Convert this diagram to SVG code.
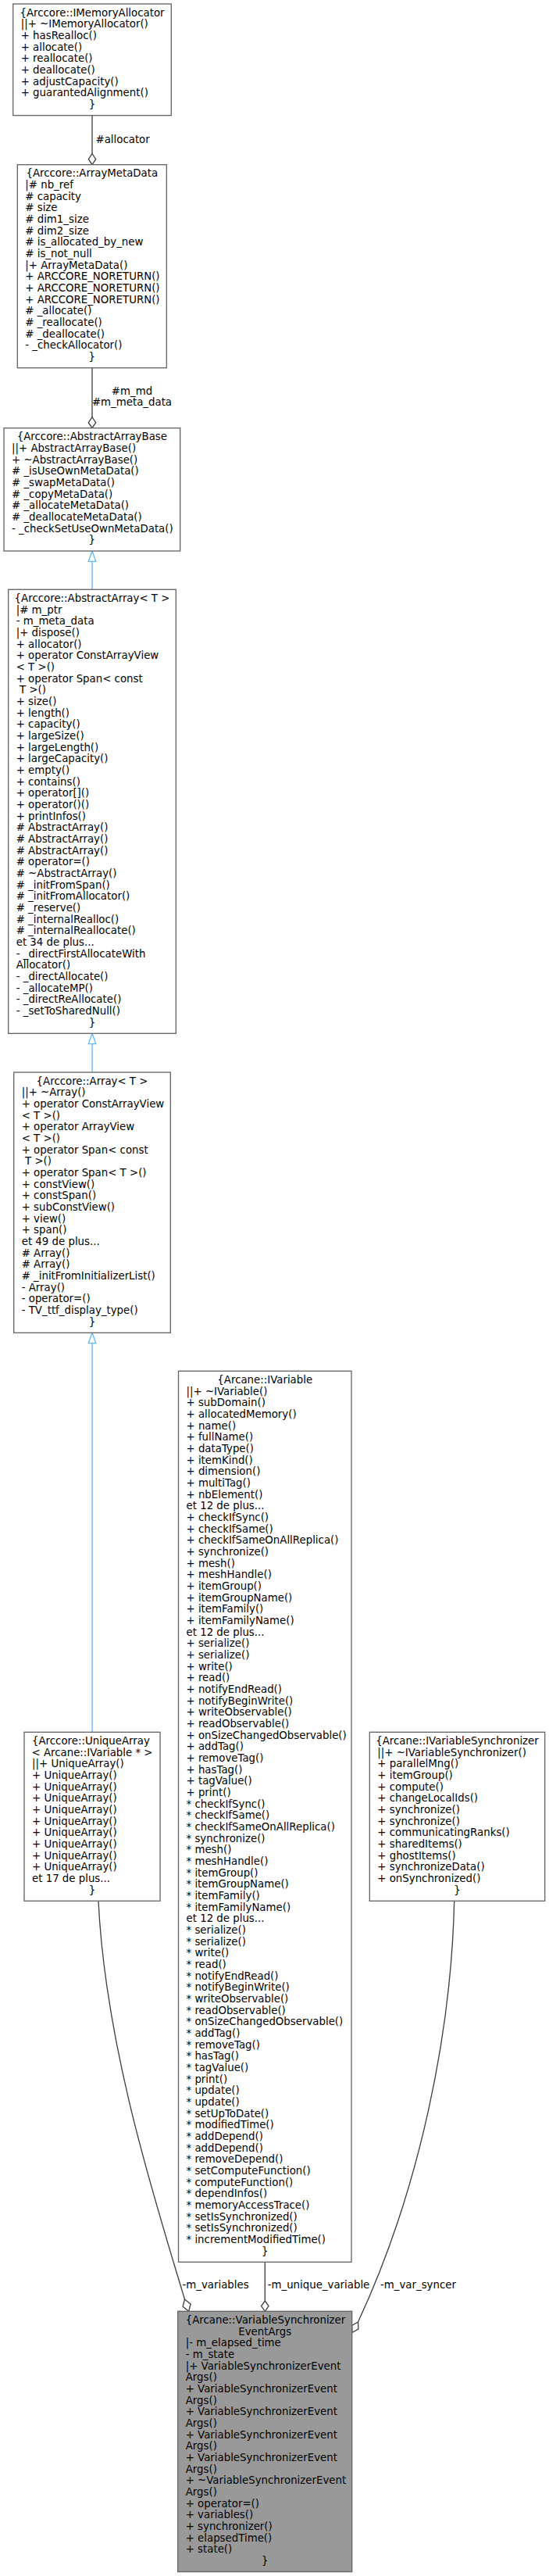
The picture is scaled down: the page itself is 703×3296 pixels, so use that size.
<svg xmlns="http://www.w3.org/2000/svg" width="703" height="3296" viewBox="0 0 703 3296">
<style>
text { font-family: "DejaVu Sans", sans-serif; font-size: 13.333px; fill: #000; }
.c { text-anchor: middle; }
.n { fill: #fff; stroke: #666; stroke-width: 1.333; }
.h { fill: #999; stroke: #666; stroke-width: 1.333; }
.e { fill: none; stroke: #404040; stroke-width: 1.333; }
.d { fill: #fff; stroke: #404040; stroke-width: 1.333; }
.i { fill: none; stroke: #63B8FF; stroke-width: 1.333; }
.t { fill: #fff; stroke: #63B8FF; stroke-width: 1.333; }
</style>
<rect x="0" y="0" width="703" height="3296" fill="#fff"/>

<g id="connectors">
  <!-- IMemoryAllocator -> ArrayMetaData (#allocator) -->
  <path class="e" d="M118,147.7 L118,196.7"/>
  <polygon class="d" points="118,210.7 122.7,203.7 118,196.7 113.3,203.7"/>
  <text x="122.5" y="183">#allocator</text>
  <!-- ArrayMetaData -> AbstractArrayBase -->
  <path class="e" d="M118,470.7 L118,533.7"/>
  <polygon class="d" points="118,547.7 122.7,540.7 118,533.7 113.3,540.7"/>
  <text class="c" x="169" y="504.5">#m_md</text>
  <text class="c" x="169" y="519.2">#m_meta_data</text>
  <!-- inheritance AbstractArrayBase <- AbstractArray -->
  <path class="i" d="M118,718.3 L118,754.3"/>
  <polygon class="t" points="118,705 122.7,718.3 113.3,718.3"/>
  <!-- AbstractArray <- Array -->
  <path class="i" d="M118,1335.6 L118,1372"/>
  <polygon class="t" points="118,1322.3 122.7,1335.6 113.3,1335.6"/>
  <!-- Array <- UniqueArray -->
  <path class="i" d="M118,1718.6 L118,2216.3"/>
  <polygon class="t" points="118,1705.3 122.7,1718.6 113.3,1718.6"/>
  <!-- UniqueArray -> EventArgs (-m_variables) -->
  <path class="e" d="M126,2432.3 C135,2620 200,2820 236.5,2942"/>
  <polygon class="d" points="236.5,2942 244.1,2947.9 241.7,2957.3 234.1,2951.3"/>
  <text x="233.5" y="2928.3">-m_variables</text>
  <!-- IVariable -> EventArgs (-m_unique_variable) -->
  <path class="e" d="M339.3,2894.3 L339.3,2944"/>
  <polygon class="d" points="339.3,2957.3 344,2950.6 339.3,2944 334.6,2950.6"/>
  <text x="342.7" y="2928.3">-m_unique_variable</text>
  <!-- IVariableSynchronizer -> EventArgs (-m_var_syncer) -->
  <path class="e" d="M581.7,2432.3 C578,2600 538,2800 458.5,2971"/>
  <polygon class="d" points="458.5,2971 458.9,2980 451,2984.5 450.6,2975.5"/>
  <text x="487" y="2928.3">-m_var_syncer</text>
</g>

<g id="IMemoryAllocator">
  <rect class="n" x="16.7" y="5" width="202.6" height="142.7"/>
  <text class="c" x="118" y="20.7">{Arccore::IMemoryAllocator</text>
  <text x="26.7" y="35.4"><tspan>||+ ~IMemoryAllocator()</tspan><tspan x="26.7" dy="14.667">+ hasRealloc()</tspan><tspan x="26.7" dy="14.667">+ allocate()</tspan><tspan x="26.7" dy="14.667">+ reallocate()</tspan><tspan x="26.7" dy="14.667">+ deallocate()</tspan><tspan x="26.7" dy="14.667">+ adjustCapacity()</tspan><tspan x="26.7" dy="14.667">+ guarantedAlignment()</tspan></text>
  <text class="c" x="118" y="138">}</text>
</g>

<g id="ArrayMetaData">
  <rect class="n" x="22.3" y="210.7" width="191" height="260"/>
  <text class="c" x="117.8" y="226.4">{Arccore::ArrayMetaData</text>
  <text x="32.3" y="241.1"><tspan>|# nb_ref</tspan><tspan x="32.3" dy="14.667"># capacity</tspan><tspan x="32.3" dy="14.667"># size</tspan><tspan x="32.3" dy="14.667"># dim1_size</tspan><tspan x="32.3" dy="14.667"># dim2_size</tspan><tspan x="32.3" dy="14.667"># is_allocated_by_new</tspan><tspan x="32.3" dy="14.667"># is_not_null</tspan><tspan x="32.3" dy="14.667">|+ ArrayMetaData()</tspan><tspan x="32.3" dy="14.667">+ ARCCORE_NORETURN()</tspan><tspan x="32.3" dy="14.667">+ ARCCORE_NORETURN()</tspan><tspan x="32.3" dy="14.667">+ ARCCORE_NORETURN()</tspan><tspan x="32.3" dy="14.667"># _allocate()</tspan><tspan x="32.3" dy="14.667"># _reallocate()</tspan><tspan x="32.3" dy="14.667"># _deallocate()</tspan><tspan x="32.3" dy="14.667">- _checkAllocator()</tspan></text>
  <text class="c" x="117.8" y="461.1">}</text>
</g>

<g id="AbstractArrayBase">
  <rect class="n" x="5" y="547.7" width="225.7" height="157.3"/>
  <text class="c" x="117.85" y="563.4">{Arccore::AbstractArrayBase</text>
  <text x="15" y="578.1"><tspan>||+ AbstractArrayBase()</tspan><tspan x="15" dy="14.667">+ ~AbstractArrayBase()</tspan><tspan x="15" dy="14.667"># _isUseOwnMetaData()</tspan><tspan x="15" dy="14.667"># _swapMetaData()</tspan><tspan x="15" dy="14.667"># _copyMetaData()</tspan><tspan x="15" dy="14.667"># _allocateMetaData()</tspan><tspan x="15" dy="14.667"># _deallocateMetaData()</tspan><tspan x="15" dy="14.667">- _checkSetUseOwnMetaData()</tspan></text>
  <text class="c" x="117.85" y="695.4">}</text>
</g>

<g id="AbstractArray">
  <rect class="n" x="10.7" y="754.3" width="214.6" height="568"/>
  <text class="c" x="118" y="770">{Arccore::AbstractArray&lt; T &gt;</text>
  <text x="20.7" y="784.7"><tspan>|# m_ptr</tspan><tspan x="20.7" dy="14.667">- m_meta_data</tspan><tspan x="20.7" dy="14.667">|+ dispose()</tspan><tspan x="20.7" dy="14.667">+ allocator()</tspan><tspan x="20.7" dy="14.667">+ operator ConstArrayView</tspan><tspan x="20.7" dy="14.667">&lt; T &gt;()</tspan><tspan x="20.7" dy="14.667">+ operator Span&lt; const</tspan><tspan x="25" dy="14.667">T &gt;()</tspan><tspan x="20.7" dy="14.667">+ size()</tspan><tspan x="20.7" dy="14.667">+ length()</tspan><tspan x="20.7" dy="14.667">+ capacity()</tspan><tspan x="20.7" dy="14.667">+ largeSize()</tspan><tspan x="20.7" dy="14.667">+ largeLength()</tspan><tspan x="20.7" dy="14.667">+ largeCapacity()</tspan><tspan x="20.7" dy="14.667">+ empty()</tspan><tspan x="20.7" dy="14.667">+ contains()</tspan><tspan x="20.7" dy="14.667">+ operator[]()</tspan><tspan x="20.7" dy="14.667">+ operator()()</tspan><tspan x="20.7" dy="14.667">+ printInfos()</tspan><tspan x="20.7" dy="14.667"># AbstractArray()</tspan><tspan x="20.7" dy="14.667"># AbstractArray()</tspan><tspan x="20.7" dy="14.667"># AbstractArray()</tspan><tspan x="20.7" dy="14.667"># operator=()</tspan><tspan x="20.7" dy="14.667"># ~AbstractArray()</tspan><tspan x="20.7" dy="14.667"># _initFromSpan()</tspan><tspan x="20.7" dy="14.667"># _initFromAllocator()</tspan><tspan x="20.7" dy="14.667"># _reserve()</tspan><tspan x="20.7" dy="14.667"># _internalRealloc()</tspan><tspan x="20.7" dy="14.667"># _internalReallocate()</tspan><tspan x="20.7" dy="14.667">et 34 de plus...</tspan><tspan x="20.7" dy="14.667">- _directFirstAllocateWith</tspan><tspan x="20.7" dy="14.667">Allocator()</tspan><tspan x="20.7" dy="14.667">- _directAllocate()</tspan><tspan x="20.7" dy="14.667">- _allocateMP()</tspan><tspan x="20.7" dy="14.667">- _directReAllocate()</tspan><tspan x="20.7" dy="14.667">- _setToSharedNull()</tspan></text>
  <text class="c" x="118" y="1312.7">}</text>
</g>

<g id="Array">
  <rect class="n" x="17.7" y="1372" width="200.6" height="333.3"/>
  <text class="c" x="118" y="1387.7">{Arccore::Array&lt; T &gt;</text>
  <text x="27.7" y="1402.4"><tspan>||+ ~Array()</tspan><tspan x="27.7" dy="14.667">+ operator ConstArrayView</tspan><tspan x="27.7" dy="14.667">&lt; T &gt;()</tspan><tspan x="27.7" dy="14.667">+ operator ArrayView</tspan><tspan x="27.7" dy="14.667">&lt; T &gt;()</tspan><tspan x="27.7" dy="14.667">+ operator Span&lt; const</tspan><tspan x="32" dy="14.667">T &gt;()</tspan><tspan x="27.7" dy="14.667">+ operator Span&lt; T &gt;()</tspan><tspan x="27.7" dy="14.667">+ constView()</tspan><tspan x="27.7" dy="14.667">+ constSpan()</tspan><tspan x="27.7" dy="14.667">+ subConstView()</tspan><tspan x="27.7" dy="14.667">+ view()</tspan><tspan x="27.7" dy="14.667">+ span()</tspan><tspan x="27.7" dy="14.667">et 49 de plus...</tspan><tspan x="27.7" dy="14.667"># Array()</tspan><tspan x="27.7" dy="14.667"># Array()</tspan><tspan x="27.7" dy="14.667"># _initFromInitializerList()</tspan><tspan x="27.7" dy="14.667">- Array()</tspan><tspan x="27.7" dy="14.667">- operator=()</tspan><tspan x="27.7" dy="14.667">- TV_ttf_display_type()</tspan></text>
  <text class="c" x="118" y="1695.7">}</text>
</g>

<g id="UniqueArray">
  <rect class="n" x="31" y="2216.3" width="174" height="216"/>
  <text x="41" y="2232">{Arccore::UniqueArray</text>
  <text class="c" x="118" y="2246.7">&lt; Arcane::IVariable * &gt;</text>
  <text x="41" y="2261.4"><tspan>||+ UniqueArray()</tspan><tspan x="41" dy="14.667">+ UniqueArray()</tspan><tspan x="41" dy="14.667">+ UniqueArray()</tspan><tspan x="41" dy="14.667">+ UniqueArray()</tspan><tspan x="41" dy="14.667">+ UniqueArray()</tspan><tspan x="41" dy="14.667">+ UniqueArray()</tspan><tspan x="41" dy="14.667">+ UniqueArray()</tspan><tspan x="41" dy="14.667">+ UniqueArray()</tspan><tspan x="41" dy="14.667">+ UniqueArray()</tspan><tspan x="41" dy="14.667">+ UniqueArray()</tspan><tspan x="41" dy="14.667">et 17 de plus...</tspan></text>
  <text class="c" x="118" y="2422.7">}</text>
</g>

<g id="IVariable">
  <rect class="n" x="228.5" y="1754.3" width="221.5" height="1140"/>
  <text class="c" x="339.25" y="1770">{Arcane::IVariable</text>
  <text x="238.5" y="1784.7"><tspan>||+ ~IVariable()</tspan><tspan x="238.5" dy="14.667">+ subDomain()</tspan><tspan x="238.5" dy="14.667">+ allocatedMemory()</tspan><tspan x="238.5" dy="14.667">+ name()</tspan><tspan x="238.5" dy="14.667">+ fullName()</tspan><tspan x="238.5" dy="14.667">+ dataType()</tspan><tspan x="238.5" dy="14.667">+ itemKind()</tspan><tspan x="238.5" dy="14.667">+ dimension()</tspan><tspan x="238.5" dy="14.667">+ multiTag()</tspan><tspan x="238.5" dy="14.667">+ nbElement()</tspan><tspan x="238.5" dy="14.667">et 12 de plus...</tspan><tspan x="238.5" dy="14.667">+ checkIfSync()</tspan><tspan x="238.5" dy="14.667">+ checkIfSame()</tspan><tspan x="238.5" dy="14.667">+ checkIfSameOnAllReplica()</tspan><tspan x="238.5" dy="14.667">+ synchronize()</tspan><tspan x="238.5" dy="14.667">+ mesh()</tspan><tspan x="238.5" dy="14.667">+ meshHandle()</tspan><tspan x="238.5" dy="14.667">+ itemGroup()</tspan><tspan x="238.5" dy="14.667">+ itemGroupName()</tspan><tspan x="238.5" dy="14.667">+ itemFamily()</tspan><tspan x="238.5" dy="14.667">+ itemFamilyName()</tspan><tspan x="238.5" dy="14.667">et 12 de plus...</tspan><tspan x="238.5" dy="14.667">+ serialize()</tspan><tspan x="238.5" dy="14.667">+ serialize()</tspan><tspan x="238.5" dy="14.667">+ write()</tspan><tspan x="238.5" dy="14.667">+ read()</tspan><tspan x="238.5" dy="14.667">+ notifyEndRead()</tspan><tspan x="238.5" dy="14.667">+ notifyBeginWrite()</tspan><tspan x="238.5" dy="14.667">+ writeObservable()</tspan><tspan x="238.5" dy="14.667">+ readObservable()</tspan><tspan x="238.5" dy="14.667">+ onSizeChangedObservable()</tspan><tspan x="238.5" dy="14.667">+ addTag()</tspan><tspan x="238.5" dy="14.667">+ removeTag()</tspan><tspan x="238.5" dy="14.667">+ hasTag()</tspan><tspan x="238.5" dy="14.667">+ tagValue()</tspan><tspan x="238.5" dy="14.667">+ print()</tspan><tspan x="238.5" dy="14.667">* checkIfSync()</tspan><tspan x="238.5" dy="14.667">* checkIfSame()</tspan><tspan x="238.5" dy="14.667">* checkIfSameOnAllReplica()</tspan><tspan x="238.5" dy="14.667">* synchronize()</tspan><tspan x="238.5" dy="14.667">* mesh()</tspan><tspan x="238.5" dy="14.667">* meshHandle()</tspan><tspan x="238.5" dy="14.667">* itemGroup()</tspan><tspan x="238.5" dy="14.667">* itemGroupName()</tspan><tspan x="238.5" dy="14.667">* itemFamily()</tspan><tspan x="238.5" dy="14.667">* itemFamilyName()</tspan><tspan x="238.5" dy="14.667">et 12 de plus...</tspan><tspan x="238.5" dy="14.667">* serialize()</tspan><tspan x="238.5" dy="14.667">* serialize()</tspan><tspan x="238.5" dy="14.667">* write()</tspan><tspan x="238.5" dy="14.667">* read()</tspan><tspan x="238.5" dy="14.667">* notifyEndRead()</tspan><tspan x="238.5" dy="14.667">* notifyBeginWrite()</tspan><tspan x="238.5" dy="14.667">* writeObservable()</tspan><tspan x="238.5" dy="14.667">* readObservable()</tspan><tspan x="238.5" dy="14.667">* onSizeChangedObservable()</tspan><tspan x="238.5" dy="14.667">* addTag()</tspan><tspan x="238.5" dy="14.667">* removeTag()</tspan><tspan x="238.5" dy="14.667">* hasTag()</tspan><tspan x="238.5" dy="14.667">* tagValue()</tspan><tspan x="238.5" dy="14.667">* print()</tspan><tspan x="238.5" dy="14.667">* update()</tspan><tspan x="238.5" dy="14.667">* update()</tspan><tspan x="238.5" dy="14.667">* setUpToDate()</tspan><tspan x="238.5" dy="14.667">* modifiedTime()</tspan><tspan x="238.5" dy="14.667">* addDepend()</tspan><tspan x="238.5" dy="14.667">* addDepend()</tspan><tspan x="238.5" dy="14.667">* removeDepend()</tspan><tspan x="238.5" dy="14.667">* setComputeFunction()</tspan><tspan x="238.5" dy="14.667">* computeFunction()</tspan><tspan x="238.5" dy="14.667">* dependInfos()</tspan><tspan x="238.5" dy="14.667">* memoryAccessTrace()</tspan><tspan x="238.5" dy="14.667">* setIsSynchronized()</tspan><tspan x="238.5" dy="14.667">* setIsSynchronized()</tspan><tspan x="238.5" dy="14.667">* incrementModifiedTime()</tspan></text>
  <text class="c" x="339.25" y="2884.7">}</text>
</g>

<g id="IVariableSynchronizer">
  <rect class="n" x="473.3" y="2216.3" width="224.4" height="216"/>
  <text class="c" x="585.5" y="2232">{Arcane::IVariableSynchronizer</text>
  <text x="483.3" y="2246.7"><tspan>||+ ~IVariableSynchronizer()</tspan><tspan x="483.3" dy="14.667">+ parallelMng()</tspan><tspan x="483.3" dy="14.667">+ itemGroup()</tspan><tspan x="483.3" dy="14.667">+ compute()</tspan><tspan x="483.3" dy="14.667">+ changeLocalIds()</tspan><tspan x="483.3" dy="14.667">+ synchronize()</tspan><tspan x="483.3" dy="14.667">+ synchronize()</tspan><tspan x="483.3" dy="14.667">+ communicatingRanks()</tspan><tspan x="483.3" dy="14.667">+ sharedItems()</tspan><tspan x="483.3" dy="14.667">+ ghostItems()</tspan><tspan x="483.3" dy="14.667">+ synchronizeData()</tspan><tspan x="483.3" dy="14.667">+ onSynchronized()</tspan></text>
  <text class="c" x="585.5" y="2422.7">}</text>
</g>

<g id="VariableSynchronizerEventArgs">
  <rect class="h" x="227.7" y="2957.3" width="223" height="333.3"/>
  <text x="237.7" y="2973">{Arcane::VariableSynchronizer</text>
  <text class="c" x="339.2" y="2987.7">EventArgs</text>
  <text x="237.7" y="3002.3"><tspan>|- m_elapsed_time</tspan><tspan x="237.7" dy="14.667">- m_state</tspan><tspan x="237.7" dy="14.667">|+ VariableSynchronizerEvent</tspan><tspan x="237.7" dy="14.667">Args()</tspan><tspan x="237.7" dy="14.667">+ VariableSynchronizerEvent</tspan><tspan x="237.7" dy="14.667">Args()</tspan><tspan x="237.7" dy="14.667">+ VariableSynchronizerEvent</tspan><tspan x="237.7" dy="14.667">Args()</tspan><tspan x="237.7" dy="14.667">+ VariableSynchronizerEvent</tspan><tspan x="237.7" dy="14.667">Args()</tspan><tspan x="237.7" dy="14.667">+ VariableSynchronizerEvent</tspan><tspan x="237.7" dy="14.667">Args()</tspan><tspan x="237.7" dy="14.667">+ ~VariableSynchronizerEvent</tspan><tspan x="237.7" dy="14.667">Args()</tspan><tspan x="237.7" dy="14.667">+ operator=()</tspan><tspan x="237.7" dy="14.667">+ variables()</tspan><tspan x="237.7" dy="14.667">+ synchronizer()</tspan><tspan x="237.7" dy="14.667">+ elapsedTime()</tspan><tspan x="237.7" dy="14.667">+ state()</tspan></text>
  <text class="c" x="339.2" y="3281">}</text>
</g>
</svg>
